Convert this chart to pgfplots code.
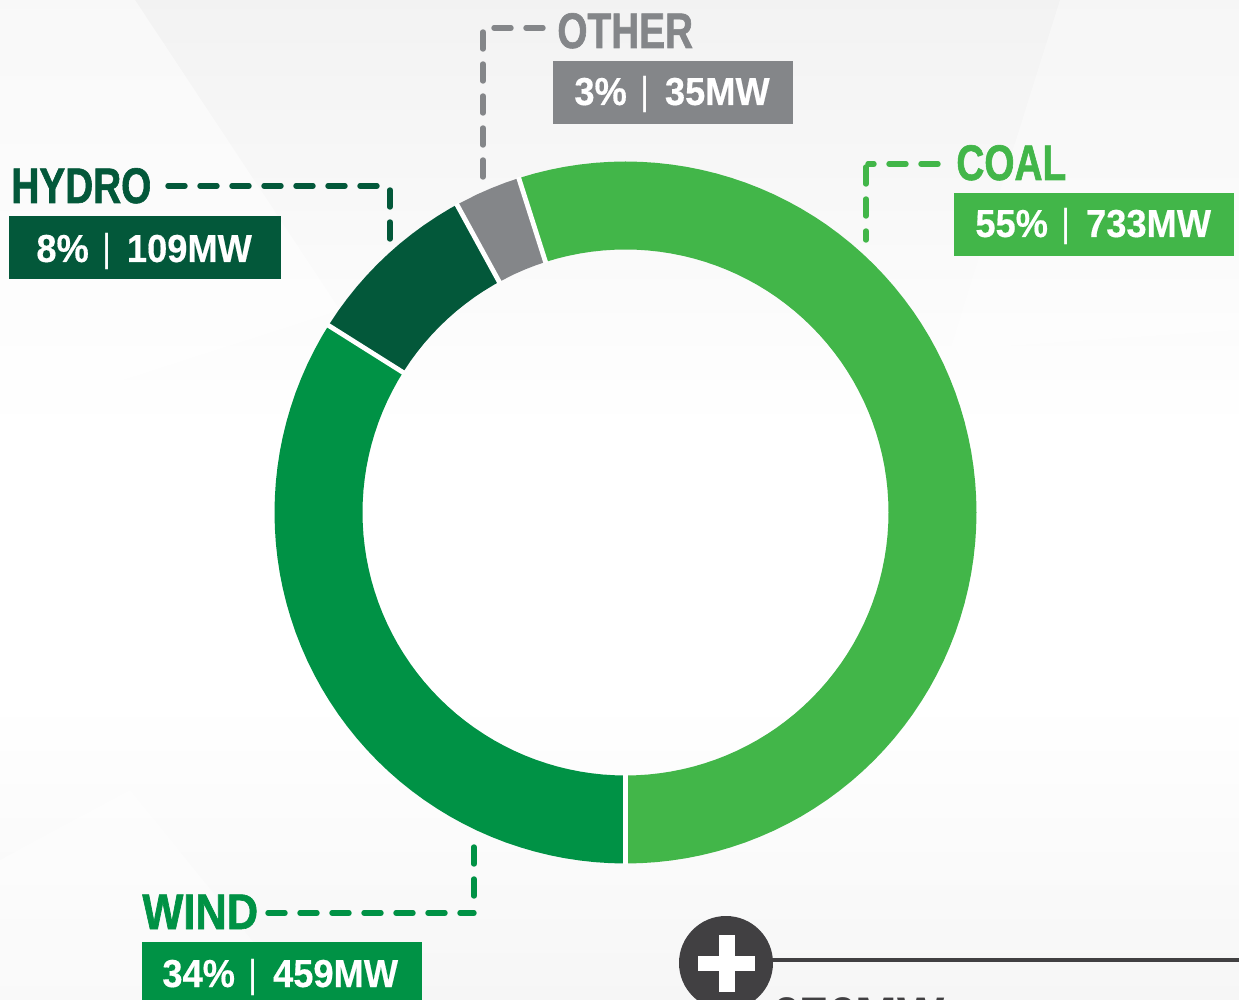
\documentclass[border=0pt]{standalone}
\usepackage{fontspec}
\usepackage{pgfplots}
\pgfplotsset{compat=1.18}
\newfontfamily\hd[FakeStretch=0.775,FakeBold=1.2]{Liberation Sans Bold}
\newfontfamily\lb[FakeStretch=0.93,FakeBold=0.4]{Liberation Sans Bold}
\newfontfamily\pp[FakeStretch=0.9]{Liberation Sans}
\newfontfamily\bt{Liberation Sans Bold}
\definecolor{coal}{HTML}{42B649}
\definecolor{wind}{HTML}{009245}
\definecolor{hydro}{HTML}{03583A}
\definecolor{other}{HTML}{848689}
\definecolor{dark}{HTML}{414042}
\newcommand\head[4]{\node[anchor=base west,inner sep=0pt,text=#4] at (#1,#2) {\fontsize{25}{25}\selectfont\hd #3};}
\newcommand\val[4]{\node[anchor=base west,inner sep=0pt,text=white] at (#1,#2) {\fontsize{19.5}{20}\selectfont\lb #3\hspace{7pt}{\pp|}\hspace{7.5pt}#4};}
\begin{document}
\begin{tikzpicture}[x=0.5pt,y=-0.5pt]
\path[use as bounding box] (0,0) rectangle (1239,1000);
\clip (0,0) rectangle (1239,1000);
% background
\shade[top color=black!5,bottom color=white] (0,0) rectangle (1239,430);
\fill[white] (0,430) rectangle (1239,700);
\shade[top color=white,bottom color=black!3.5] (0,700) rectangle (1239,1000);
\fill[white,opacity=.5] (0,0) -- (135,0) -- (340,310) -- (0,420) -- cycle;
\fill[white,opacity=.35] (1060,0) -- (1239,0) -- (1239,330) -- (950,350) -- cycle;
\fill[white,opacity=.4] (0,860) -- (130,790) -- (300,1000) -- (0,1000) -- cycle;
\begin{axis}[at={(0pt,-500pt)},anchor=south west,scale only axis,width=619.5pt,height=500pt,
  xmin=-625.5,xmax=613.5,ymin=-487.5,ymax=512.5,hide axis,clip=false]
% coal 733 MW
\addplot[fill=coal,draw=none,data cs=polar] coordinates {
(107.7,351)(105,351)(102.5,351)(100,351)(97.5,351)(95,351)(92.5,351)(90,351)(87.5,351)(85,351)(82.5,351)(80,351)(77.5,351)(75,351)(72.5,351)(70,351)(67.5,351)(65,351)(62.5,351)(60,351)(57.5,351)(55,351)(52.5,351)(50,351)(47.5,351)(45,351)(42.5,351)(40,351)(37.5,351)(35,351)(32.5,351)(30,351)(27.5,351)(25,351)(22.5,351)(20,351)(17.5,351)(15,351)(12.5,351)(10,351)(7.5,351)(5,351)(2.5,351)(0,351)(-2.5,351)(-5,351)(-7.5,351)(-10,351)(-12.5,351)(-15,351)(-17.5,351)(-20,351)(-22.5,351)(-25,351)(-27.5,351)(-30,351)(-32.5,351)(-35,351)(-37.5,351)(-40,351)(-42.5,351)(-45,351)(-47.5,351)(-50,351)(-52.5,351)(-55,351)(-57.5,351)(-60,351)(-62.5,351)(-65,351)(-67.5,351)(-70,351)(-72.5,351)(-75,351)(-77.5,351)(-80,351)(-82.5,351)(-85,351)(-87.5,351)(-90,351)
(-90,263)(-87.5,263)(-85,263)(-82.5,263)(-80,263)(-77.5,263)(-75,263)(-72.5,263)(-70,263)(-67.5,263)(-65,263)(-62.5,263)(-60,263)(-57.5,263)(-55,263)(-52.5,263)(-50,263)(-47.5,263)(-45,263)(-42.5,263)(-40,263)(-37.5,263)(-35,263)(-32.5,263)(-30,263)(-27.5,263)(-25,263)(-22.5,263)(-20,263)(-17.5,263)(-15,263)(-12.5,263)(-10,263)(-7.5,263)(-5,263)(-2.5,263)(0,263)(2.5,263)(5,263)(7.5,263)(10,263)(12.5,263)(15,263)(17.5,263)(20,263)(22.5,263)(25,263)(27.5,263)(30,263)(32.5,263)(35,263)(37.5,263)(40,263)(42.5,263)(45,263)(47.5,263)(50,263)(52.5,263)(55,263)(57.5,263)(60,263)(62.5,263)(65,263)(67.5,263)(70,263)(72.5,263)(75,263)(77.5,263)(80,263)(82.5,263)(85,263)(87.5,263)(90,263)(92.5,263)(95,263)(97.5,263)(100,263)(102.5,263)(105,263)(107.7,263)} -- cycle;
% wind 459 MW
\addplot[fill=wind,draw=none,data cs=polar] coordinates {
(270,351)(267.5,351)(265,351)(262.5,351)(260,351)(257.5,351)(255,351)(252.5,351)(250,351)(247.5,351)(245,351)(242.5,351)(240,351)(237.5,351)(235,351)(232.5,351)(230,351)(227.5,351)(225,351)(222.5,351)(220,351)(217.5,351)(215,351)(212.5,351)(210,351)(207.5,351)(205,351)(202.5,351)(200,351)(197.5,351)(195,351)(192.5,351)(190,351)(187.5,351)(185,351)(182.5,351)(180,351)(177.5,351)(175,351)(172.5,351)(170,351)(167.5,351)(165,351)(162.5,351)(160,351)(157.5,351)(155,351)(152.5,351)(150,351)(147.8,351)
(147.8,263)(150,263)(152.5,263)(155,263)(157.5,263)(160,263)(162.5,263)(165,263)(167.5,263)(170,263)(172.5,263)(175,263)(177.5,263)(180,263)(182.5,263)(185,263)(187.5,263)(190,263)(192.5,263)(195,263)(197.5,263)(200,263)(202.5,263)(205,263)(207.5,263)(210,263)(212.5,263)(215,263)(217.5,263)(220,263)(222.5,263)(225,263)(227.5,263)(230,263)(232.5,263)(235,263)(237.5,263)(240,263)(242.5,263)(245,263)(247.5,263)(250,263)(252.5,263)(255,263)(257.5,263)(260,263)(262.5,263)(265,263)(267.5,263)(270,263)} -- cycle;
% hydro 109 MW
\addplot[fill=hydro,draw=none,data cs=polar] coordinates {
(147.8,351)(145,351)(142.5,351)(140,351)(137.5,351)(135,351)(132.5,351)(130,351)(127.5,351)(125,351)(122.5,351)(120,351)(118.7,351)
(118.7,263)(120,263)(122.5,263)(125,263)(127.5,263)(130,263)(132.5,263)(135,263)(137.5,263)(140,263)(142.5,263)(145,263)(147.8,263)} -- cycle;
% other 35 MW
\addplot[fill=other,draw=none,data cs=polar] coordinates {
(118.7,351)(115,351)(112.5,351)(110,351)(107.7,351)
(107.7,263)(110,263)(112.5,263)(115,263)(118.7,263)} -- cycle;
% separators
\addplot[white,line width=2.4pt,data cs=polar] coordinates {(107.7,262)(107.7,352)};
\addplot[white,line width=2.4pt,data cs=polar] coordinates {(118.7,262)(118.7,352)};
\addplot[white,line width=2.4pt,data cs=polar] coordinates {(147.8,262)(147.8,352)};
\addplot[white,line width=2.4pt,data cs=polar] coordinates {(270,262)(270,352)};
\end{axis}
% leaders
\tikzset{lead/.style={line width=2.7pt,line cap=round,dash pattern=on 8.5pt off 7.5pt}}
\draw[lead,coal] (938,164) -- (868,164);
\draw[lead,coal] (866,167) -- (866,240);
\draw[lead,other] (543,28) -- (493,28);
\draw[lead,other] (483,32) -- (483,180);
\draw[lead,hydro] (168,186) -- (384,186);
\draw[lead,hydro] (390,190) -- (390,240);
\draw[lead,wind] (268,913) -- (474,913);
\draw[lead,wind] (474,847) -- (474,908);
% labels
\head{956}{180}{COAL}{coal}
\fill[coal] (954,193) rectangle (1234,256);
\val{975}{237}{55\%}{733MW}
\head{557}{48}{OTHER}{other}
\fill[other] (553,61) rectangle (793,124);
\val{574}{105}{3\%}{35MW}
\head{11}{203}{HYDRO}{hydro}
\fill[hydro] (9,216) rectangle (281,279);
\val{36}{262}{8\%}{109MW}
\head{142}{929}{\scalebox{1.12}[1]{WIND}}{wind}
\fill[wind] (142,942) rectangle (422,1005);
\val{162}{987}{34\%}{459MW}
% plus icon
\fill[dark] (772,958) rectangle (1239,962);
\fill[dark] (726,963) circle [radius=47];
\fill[white] (698,956) rectangle (755,971);
\fill[white] (719,935) rectangle (735,992);
\node[anchor=base west,inner sep=0pt,text=dark] at (772,1032) {\fontsize{25}{25}\selectfont\bt 676MW};
\end{tikzpicture}
\end{document}
